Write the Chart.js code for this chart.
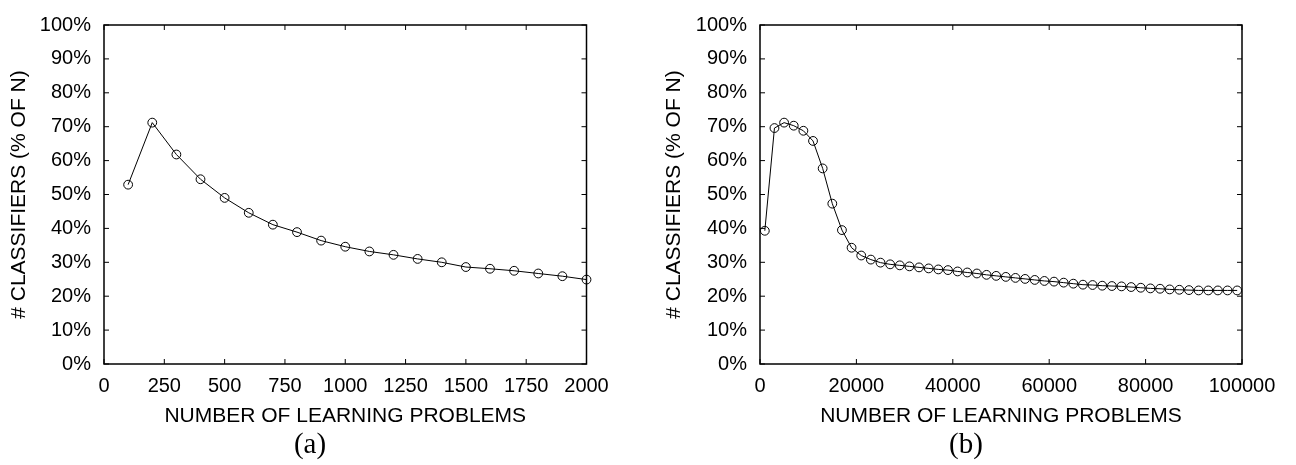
<!DOCTYPE html>
<html>
<head>
<meta charset="utf-8">
<script src="https://cdn.jsdelivr.net/npm/chart.js@4/dist/chart.umd.min.js"></script>
<style>
  body { margin: 0; background: #fff; }
  .wrap { position: relative; width: 1296px; height: 465px; }
  canvas { position: absolute; top: 0; }
  #chartA { left: 0; }
  #chartB { left: 648px; }
  .sub {
    position: absolute;
    font-family: 'Liberation Serif', 'DejaVu Serif', serif;
    font-size: 29px;
    line-height: 1;
    color: #000;
    transform: translate(-50%, -50%);
  }
</style>
</head>
<body>
<div class="wrap">
  <canvas id="chartA" width="648" height="465"></canvas>
  <canvas id="chartB" width="648" height="465"></canvas>
  <div class="sub" style="left:310px; top:443px;">(a)</div>
  <div class="sub" style="left:966px; top:443px;">(b)</div>
</div>
<script>
// --- Data ---
const problemsA = [100, 200, 300, 400, 500, 600, 700, 800, 900, 1000,
                   1100, 1200, 1300, 1400, 1500, 1600, 1700, 1800, 1900, 2000];
const classifiersA = [52.9, 71.2, 61.8, 54.5, 49.0, 44.6, 41.1, 38.9, 36.4, 34.6,
                      33.2, 32.2, 31.0, 30.0, 28.6, 28.1, 27.5, 26.7, 25.9, 24.9];

const problemsB = [1000, 3000, 5000, 7000, 9000, 11000, 13000, 15000, 17000, 19000,
                   21000, 23000, 25000, 27000, 29000, 31000, 33000, 35000, 37000, 39000,
                   41000, 43000, 45000, 47000, 49000, 51000, 53000, 55000, 57000, 59000,
                   61000, 63000, 65000, 67000, 69000, 71000, 73000, 75000, 77000, 79000,
                   81000, 83000, 85000, 87000, 89000, 91000, 93000, 95000, 97000, 99000];
const classifiersB = [39.3, 69.6, 71.2, 70.3, 68.8, 65.8, 57.7, 47.3, 39.5, 34.3,
                      32.0, 30.8, 29.9, 29.4, 29.1, 28.8, 28.5, 28.2, 27.9, 27.7,
                      27.3, 27.0, 26.7, 26.3, 26.0, 25.7, 25.4, 25.1, 24.8, 24.5,
                      24.3, 24.0, 23.7, 23.4, 23.3, 23.1, 23.0, 22.9, 22.7, 22.5,
                      22.3, 22.2, 22.0, 21.9, 21.8, 21.7, 21.7, 21.7, 21.7, 21.7];

const xTitle = 'NUMBER OF LEARNING PROBLEMS';
const yTitle = '# CLASSIFIERS (% OF N)';

Chart.defaults.font.family = "'Liberation Sans', Arial, sans-serif";
Chart.defaults.font.size = 20;
Chart.defaults.color = '#000';

// gnuplot-style frame with inward ticks on all four sides
const frameTicks = {
    id: 'frameTicks',
    afterDatasetsDraw(chart) {
        const { ctx, chartArea: a, scales } = chart;
        const len = 5;
        ctx.save();
        ctx.strokeStyle = '#000';
        ctx.lineWidth = 1;
        ctx.beginPath();
        scales.x.ticks.forEach(t => {
            const px = scales.x.getPixelForValue(t.value);
            ctx.moveTo(px, a.bottom); ctx.lineTo(px, a.bottom - len);
            ctx.moveTo(px, a.top); ctx.lineTo(px, a.top + len);
        });
        scales.y.ticks.forEach(t => {
            const py = scales.y.getPixelForValue(t.value);
            ctx.moveTo(a.left, py); ctx.lineTo(a.left + len, py);
            ctx.moveTo(a.right, py); ctx.lineTo(a.right - len, py);
        });
        ctx.stroke();
        ctx.lineWidth = 1.5;
        ctx.strokeRect(a.left, a.top, a.right - a.left, a.bottom - a.top);
        ctx.restore();
    }
};

function makeChart(id, xs, ys, xMax, xStep, yAxisWidth, yTitlePad, padRight) {
    const ctx = document.getElementById(id).getContext('2d');
    return new Chart(ctx, {
        type: 'line',
        data: {
            datasets: [{
                data: xs.map((x, i) => ({ x: x, y: ys[i] })),
                borderColor: '#000',
                borderWidth: 1,
                tension: 0,
                pointRadius: 4.4,
                pointBorderWidth: 1,
                pointBorderColor: '#000',
                pointBackgroundColor: 'rgba(0,0,0,0)',
                clip: false
            }]
        },
        options: {
            responsive: false,
            animation: false,
            devicePixelRatio: 1,
            layout: { padding: { top: 15, right: padRight, bottom: 36, left: 0 } },
            plugins: { legend: { display: false }, tooltip: { enabled: false } },
            scales: {
                x: {
                    type: 'linear',
                    min: 0,
                    max: xMax,
                    grid: { display: false, drawTicks: false },
                    border: { display: false },
                    ticks: { stepSize: xStep, padding: 10, maxRotation: 0, autoSkip: false,
                             callback: v => String(v) },
                    title: { display: true, text: xTitle, font: { size: 21 },
                             padding: { top: 0, bottom: 0 } },
                    afterFit(scale) { scale.height = 65; }
                },
                y: {
                    min: 0,
                    max: 100,
                    grid: { display: false, drawTicks: false },
                    border: { display: false },
                    ticks: { stepSize: 10, padding: 13, callback: v => v + '%' },
                    title: { display: true, text: yTitle, font: { size: 21 },
                             padding: { top: yTitlePad, bottom: 0 } },
                    afterFit(scale) { scale.width = yAxisWidth; }
                }
            }
        },
        plugins: [frameTicks]
    });
}

makeChart('chartA', problemsA, classifiersA, 2000, 250, 104, 7, 61.5);
makeChart('chartB', problemsB, classifiersB, 100000, 20000, 112, 14, 54);
</script>
</body>
</html>
